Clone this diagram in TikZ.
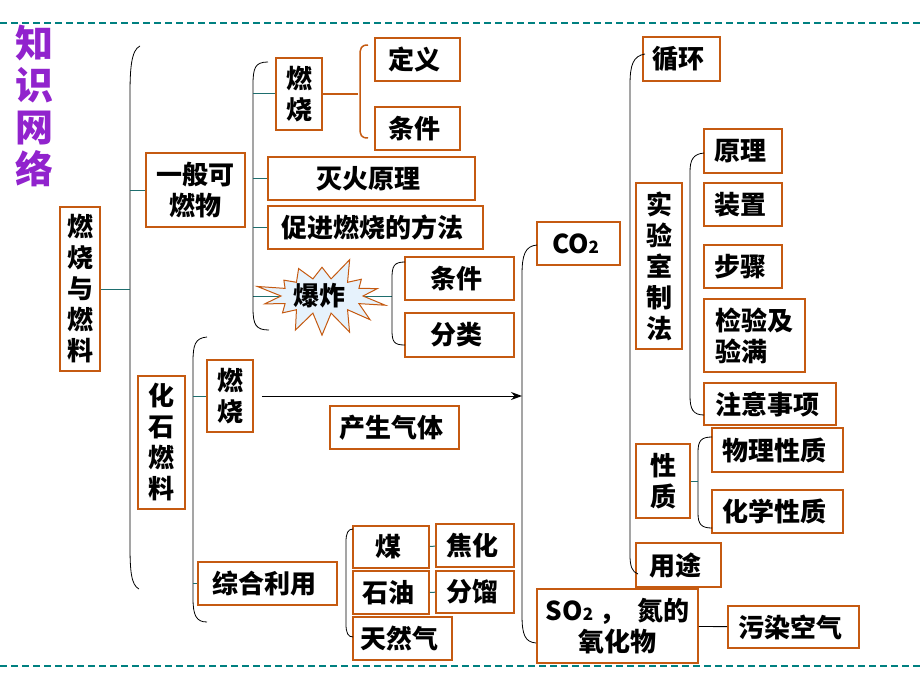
\documentclass[tikz,border=0pt]{standalone}
\usepackage{fontspec}
\setmainfont{Noto Sans CJK SC}
\usetikzlibrary{arrows,arrows.meta,shapes,shapes.symbols}
\usepackage{xcolor}
\definecolor{boxorange}{RGB}{197,90,17}
\definecolor{linkteal}{RGB}{30,110,110}
\definecolor{rulerteal}{RGB}{0,128,128}
\definecolor{titlepurple}{RGB}{145,35,205}
\definecolor{burstblue}{RGB}{230,242,252}
\pgfdeclarelayer{background}
\pgfsetlayers{background,main}

\begin{document}
\begin{tikzpicture}[x=1pt, y=-1pt,
    link/.style={linkteal, line width=1pt},
    bracket/.style={black, line width=0.8pt},
    every node/.style={
    rectangle,
    draw=boxorange,
    line width=1.8pt,
    inner sep=2pt,
    align=center,
    font=\bfseries\fontsize{26}{31}\selectfont
}]
    \useasboundingbox (0,0) rectangle (920,690);

    \draw[rulerteal, line width=2.5pt, dash pattern=on 7pt off 4pt] (0,23) -- (920,23);
    \draw[rulerteal, line width=2.5pt, dash pattern=on 7pt off 4pt] (0,666) -- (920,666);

    \node (title) [draw=none, text=titlepurple, font=\bfseries\fontsize{38}{42}\selectfont, shift={(35, 106)}]
    {
        知\\识\\网\\络
    };



    \node (fuel_root) [minimum width=40pt, minimum height=164pt, shift={(80, 289)}]
    {
        燃\\烧\\与\\燃\\料
    };



    \node (general) [minimum width=99pt, minimum height=74pt, shift={(195.5, 190)}]
    {
        一般可\\燃物
    };
    \node (fossil) [minimum width=47pt, minimum height=133pt, shift={(161.5, 442.5)}]
    {
        化\\石\\燃\\料
    };




    \node (burn_a) [minimum width=46pt, minimum height=72pt, shift={(299, 94)}]
    {
        燃\\烧
    };
    \node (define) [minimum width=85pt, minimum height=43pt, shift={(417.5, 59.5)}]
    {
        定义
    };
    \node (cond_a) [minimum width=85pt, minimum height=43pt, shift={(417.5, 128.5)}]
    {
        条件
    };
    \node (extinguish) [minimum width=207pt, minimum height=43pt, shift={(371.5, 178.5)}]
    {
        灭火原理
    };
    \node (promote) [minimum width=215pt, minimum height=43pt, shift={(375.5, 227.5)}]
    {
        促进燃烧的方法
    };
    \node (explosion) [starburst, starburst points=14, starburst point height=26pt, random starburst=42, fill=burstblue, draw=boxorange, line width=1pt, minimum width=123pt, minimum height=85pt, inner sep=0pt, shift={(322, 296)}]
    {
        爆炸
    };
    \node (cond_b) [minimum width=109pt, minimum height=43pt, shift={(459.5, 278.5)}]
    {
        条件
    };
    \node (classify) [minimum width=109pt, minimum height=44pt, shift={(459.5, 335)}]
    {
        分类
    };




    \node (burn_b) [minimum width=46pt, minimum height=72pt, shift={(230, 396)}]
    {
        燃\\烧
    };
    \node (gas) [minimum width=129pt, minimum height=43pt, shift={(394.5, 427.5)}]
    {
        产生气体
    };
    \node (utilize) [minimum width=139pt, minimum height=43pt, shift={(267.5, 583.5)}]
    {
        综合利用
    };
    \node (coal) [minimum width=76pt, minimum height=42pt, shift={(391, 547)}]
    {
        煤
    };
    \node (coking) [minimum width=78pt, minimum height=43pt, shift={(475, 545.5)}]
    {
        焦化
    };
    \node (oil) [minimum width=76pt, minimum height=43pt, shift={(391, 592.5)}]
    {
        石油
    };
    \node (distill) [minimum width=78pt, minimum height=42pt, shift={(475, 592)}]
    {
        分馏
    };
    \node (natgas) [minimum width=99pt, minimum height=43pt, shift={(402.5, 638.5)}]
    {
        天然气
    };




    \node (co2) [minimum width=83pt, minimum height=43pt, shift={(578.5, 243.5)}]
    {
        CO{\fontsize{17}{17}\selectfont 2}
    };
    \node (so2) [minimum width=161pt, minimum height=74pt, shift={(617.5, 626)}]
    {
        SO{\fontsize{17}{17}\selectfont 2} ，\ \ 氮的\\氧化物
    };
    \node (pollute) [minimum width=131pt, minimum height=42pt, shift={(793.5, 627)}]
    {
        污染空气
    };



    \node (cycle) [minimum width=77pt, minimum height=44pt, shift={(681.5, 59)}]
    {
        循环
    };
    \node (lab) [minimum width=46pt, minimum height=166pt, shift={(659, 266)}]
    {
        实\\验\\室\\制\\法
    };
    \node (principle) [minimum width=78pt, minimum height=44pt, shift={(743, 151)}]
    {
        原理
    };
    \node (apparatus) [minimum width=78pt, minimum height=43pt, shift={(743, 204.5)}]
    {
        装置
    };
    \node (steps) [minimum width=78pt, minimum height=43pt, shift={(743, 266.5)}]
    {
        步骤
    };
    \node (test) [align=left, minimum width=101pt, minimum height=73pt, shift={(754.5, 335.5)}]
    {
        检验及\\验满
    };
    \node (notes) [minimum width=132pt, minimum height=42pt, shift={(770, 404)}]
    {
        注意事项
    };
    \node (property) [minimum width=54pt, minimum height=74pt, shift={(663, 481)}]
    {
        性\\质
    };
    \node (physical) [minimum width=131pt, minimum height=44pt, shift={(777.5, 450)}]
    {
        物理性质
    };
    \node (chemical) [minimum width=131pt, minimum height=43pt, shift={(777.5, 511.5)}]
    {
        化学性质
    };
    \node (use) [minimum width=85pt, minimum height=44pt, shift={(678.5, 565)}]
    {
        用途
    };



    \coordinate (b1) at (130, 0);
    \coordinate (b2) at (253, 0);
    \coordinate (b3) at (392, 0);
    \coordinate (b4) at (193, 0);
    \coordinate (b6) at (522, 0);
    \coordinate (b9) at (698, 0);

    \draw[bracket] (140,46) .. controls (131,50) and (130,70) .. (130,95) -- (130,545) .. controls (130,570) and (131,585) .. (139,589);
    \draw[bracket] (268,62) .. controls (255,62) and (253,68) .. (253,85) -- (253,308) .. controls (253,325) and (256,330) .. (269,330);
    \draw[bracket] (405,262) .. controls (394,262) and (392,266) .. (392,278) -- (392,330) .. controls (392,342) and (394,345) .. (405,345);
    \draw[bracket] (207,337) .. controls (195,338) and (193,345) .. (193,362) -- (193,598) .. controls (193,615) and (196,622) .. (207,622);
    \draw[bracket] (353,529) .. controls (348,529) and (346,533) .. (346,542) -- (346,624) .. controls (346,633) and (348,637) .. (353,637);
    \draw[bracket] (537,245) .. controls (525,246) and (522,255) .. (522,275) -- (522,615) .. controls (522,635) and (525,642) .. (536,643);
    \draw[bracket] (645,54) .. controls (633,56) and (630,65) .. (630,85) -- (630,555) .. controls (630,566) and (632,572) .. (638,574);
    \draw[bracket] (704,153) .. controls (693,154) and (690,160) .. (690,172) -- (690,396) .. controls (690,409) and (693,415) .. (704,415);
    \draw[bracket] (712,437) .. controls (701,437) and (698,441) .. (698,452) -- (698,513) .. controls (698,524) and (701,528) .. (712,528);
    \draw[boxorange, line width=1.5pt] (368,45) .. controls (361,45) and (360,48) .. (360,56) -- (360,128) .. controls (360,135) and (361,138) .. (368,138);


    \begin{pgfonlayer}{background}
    \draw[link] (explosion.center -| b2) -- (explosion.center);
    \draw[link] (explosion.center) -- (explosion.center -| b3);
    \end{pgfonlayer}

    \draw[boxorange, line width=1.5pt] (burn_a.east) -- (358, 94);
    \draw[link] (fuel_root.east) -- (fuel_root.east -| b1);
    \draw[link] (general.west -| b1) -- (general.west);
    \draw[link] (burn_a.west -| b2) -- (burn_a.west);
    \draw[link] (extinguish.west -| b2) -- (extinguish.west);
    \draw[link] (promote.west -| b2) -- (promote.west);
    \draw[link] (burn_b.west -| b4) -- (burn_b.west);
    \draw[link] (utilize.west -| b4) -- (utilize.west);
    \draw[link] (coal) -- (coking);
    \draw[link] (oil) -- (distill);
    \draw[link] (property.east) -- (property.east -| b9);
    \draw[-{Stealth[length=11pt, width=8pt]}, black, line width=1pt, shorten <=8pt] (burn_b.east) -- (burn_b.east -| b6);
    \draw[black, line width=0.9pt] (so2) -- (pollute);


\end{tikzpicture}
\end{document}
